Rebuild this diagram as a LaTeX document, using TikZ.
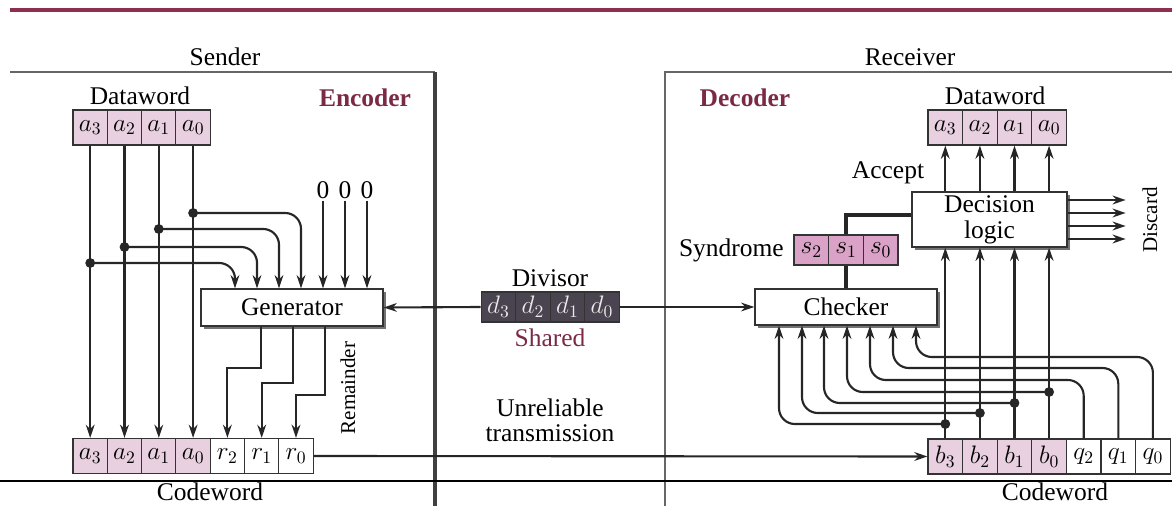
\documentclass[tikz,border=0pt]{standalone}
\usepackage{fontspec}
\setmainfont{Liberation Serif}
\usepackage{tikz}
\usetikzlibrary{arrows.meta,shadows,positioning}
\definecolor{maroon}{HTML}{7B2A45}
\definecolor{topbar}{HTML}{8C2F50}
\definecolor{datapink}{HTML}{E8D0E0}
\definecolor{synpink}{HTML}{D9A2C6}
\definecolor{divgray}{HTML}{4A4450}
\tikzset{
  cell/.style={draw=black!80,line width=0.7pt,fill=datapink,minimum width=0.69cm,minimum height=0.7cm,inner sep=0pt},
  unit/.style={draw=black!80,line width=0.8pt,fill=white,inner sep=0pt,
    drop shadow={shadow xshift=1.6pt,shadow yshift=-1.6pt,fill=black!55,opacity=1}},
  wire/.style={line width=1.2pt,draw=black!85},
  frame/.style={line width=0.8pt,draw=black!60},
  dot/.style={fill=black!85},
  sidelabel/.style={rotate=90,font=\fontsize{12}{14}\selectfont}
}
\begin{document}
\begin{tikzpicture}[x=0.02cm,y=-0.02cm,>={Stealth[length=7.5pt,width=5pt]},
  every node/.style={font=\fontsize{14.5}{17}\selectfont}]
\useasboundingbox (0,0) rectangle (1172,506);
% frames
\draw[line width=2.3pt,topbar](10,10)--(1172,10);
\draw[frame](10,72)--(435,72);
\draw[line width=2.8pt,black!75](435,72)--(435,506);
\draw[frame](1172,72)--(665,72)--(665,506);
\draw[line width=1.2pt,black](0,481)--(1172,481);
\node (sender) at (225,57) {Sender};
\node (receiver) at (910,57) {Receiver};
\node[maroon] (encoder) at (365,98) {\bfseries Encoder};
\node[maroon] (decoder) at (745,98) {\bfseries Decoder};
% sender side
\node (sdw) at (140,96) {Dataword};
\foreach \n [count=\k from 0] in {3,2,1,0}
  \node[cell] (sa\n) at (90.2+34.3*\k,127.5) {$a_\n$};
\foreach \n [count=\k from 0] in {3,2,1,0}
  \node[cell] (ca\n) at (90.2+34.3*\k,456) {$a_\n$};
\foreach \n [count=\k from 4] in {2,1,0}
  \node[cell,fill=white] (cr\n) at (90.2+34.3*\k,456) {$r_\n$};
\node (scw) at (210,492) {Codeword};
\node[unit,minimum width=3.64cm,minimum height=0.74cm] (gen) at (292,307.5) {Generator};
\foreach \n in {3,2,1,0}
  \draw[wire,->](sa\n.south)--(ca\n.north);
\foreach \n/\y/\x in {3/263/235,2/247/257,1/229/279,0/213/301}{
  \draw[wire,->,rounded corners=9](sa\n |- 0,\y)-|(gen.north -| \x,0);
  \fill[dot](sa\n |- 0,\y) circle (2.8pt);
}
\foreach \x [count=\k] in {323,345,367}{
  \node[inner sep=1pt] (z\k) at (\x,190) {0};
  \draw[wire,->](z\k)--(z\k |- gen.north);
}
\draw[wire,->](gen.south -| 261,0)|-(cr2 |- 0,368)--(cr2.north);
\draw[wire,->](gen.south -| 293,0)|-(cr1 |- 0,383)--(cr1.north);
\draw[wire,->](gen.south -| 325,0)|-(cr0 |- 0,395)--(cr0.north);
\node[sidelabel] (rem) at (348,388) {Remainder};
% shared divisor
\node (divisor) at (550,278) {Divisor};
\foreach \n [count=\k from 0] in {3,2,1,0}
  \node[cell,fill=divgray,text=black!8,minimum height=0.6cm] (dv\n) at (498.5+34.5*\k,307) {$d_\n$};
\node[maroon] (shared) at (550,338) {Shared};
\node[align=center] (unrel) at (550,420) {Unreliable\\[-3pt]transmission};
% receiver side
\node (rdw) at (995,96) {Dataword};
\foreach \n [count=\k from 0] in {3,2,1,0}
  \node[cell] (ra\n) at (945.3+34.6*\k,127.5) {$a_\n$};
\foreach \n [count=\k from 0] in {3,2,1,0}
  \node[cell] (rb\n) at (945.3+34.6*\k,456.5) {$b_\n$};
\foreach \n [count=\k from 4] in {2,1,0}
  \node[cell,fill=white] (rq\n) at (945.3+34.6*\k,456.5) {$q_\n$};
\node (rcw) at (1055,492) {Codeword};
\node[unit,minimum width=3.1cm,minimum height=1.1cm,align=center] (dec) at (989.5,219.5) {Decision\\[-2pt]logic};
\node[unit,minimum width=3.64cm,minimum height=0.72cm] (chk) at (846,307) {Checker};
\foreach \n [count=\k from 0] in {2,1,0}
  \node[cell,fill=synpink,minimum height=0.6cm] (s\n) at (811.3+34.7*\k,250) {$s_\n$};
\node[left=2pt of s2] (syn) {Syndrome};
\node (accept) at (888,173) {Accept};
\node[sidelabel] (discard) at (1150,220) {Discard};
\draw[line width=2.8pt,black!85](s1.south)--(chk.north);
\draw[line width=2.8pt,black!85](s1.north)|-(dec.west |- 0,215);
\foreach \n in {3,2,1,0}{
  \draw[wire,->](dec.north -| ra\n)--(ra\n.south);
  \draw[wire,->](rb\n.north)--(rb\n |- dec.south);
}
\foreach \y in {200,213,226,239}
  \draw[wire,->](dec.east |- 0,\y)--++(58,0);
\foreach \n/\y/\x in {3/424/779,2/413/802,1/403/824,0/392/847}{
  \draw[wire,->,rounded corners=9](rb\n |- 0,\y)-|(chk.south -| \x,0);
  \fill[dot](rb\n |- 0,\y) circle (2.8pt);
}
\foreach \n/\y/\x in {2/380/870,1/368/893,0/357/916}
  \draw[wire,->,rounded corners=9](rq\n.north)--(rq\n |- 0,\y)-|(chk.south -| \x,0);
% links
\draw[wire,->](dv3.west)--(gen.east);
\draw[wire,->](dv0.east)--(chk.west);
\draw[wire,->](cr0.east)--(rb3.west);
\end{tikzpicture}
\end{document}
